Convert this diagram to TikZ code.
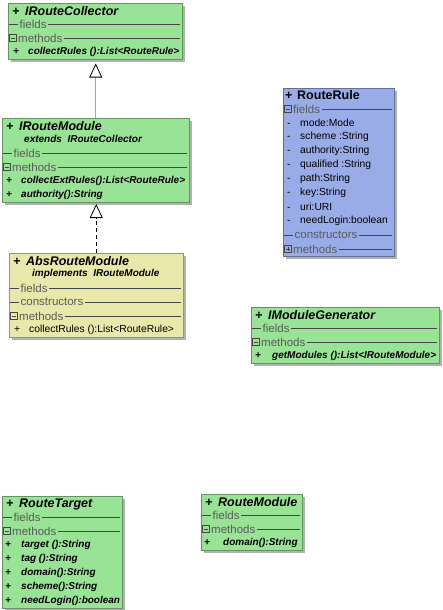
\documentclass[tikz,border=0pt]{standalone}
\usepackage{fontspec}
\setmainfont{Liberation Sans}
\usetikzlibrary{arrows.meta,shadows}

\definecolor{umlgreen}{RGB}{153,227,150}
\definecolor{umlblue}{RGB}{154,172,232}
\definecolor{umlyellow}{RGB}{232,232,170}
\definecolor{sepgray}{RGB}{70,70,70}
\definecolor{labgray}{RGB}{90,90,90}

\begin{document}
\begin{tikzpicture}[x=1pt,y=-1pt,
    bg/.style={fill=umlgreen},
    cls/.style={rectangle,anchor=north west,inner sep=0pt,fill=#1,draw=#1!65!black,line width=0.5pt,
        drop shadow={shadow xshift=2.5pt,shadow yshift=-2.5pt,fill=black!30,opacity=1}},
    head/.style={anchor=west,inner sep=0pt,font=\fontsize{12.5}{14}\selectfont\bfseries\itshape},
    headup/.style={anchor=west,inner sep=0pt,font=\fontsize{12.5}{14}\selectfont\bfseries},
    mem/.style={anchor=west,inner sep=0pt,font=\fontsize{10}{12}\selectfont\bfseries\itshape},
    memup/.style={anchor=west,inner sep=0pt,font=\fontsize{10.3}{12}\selectfont},
    sepline/.style={draw=sepgray,line width=0.6pt},
    seplab/.style={anchor=west,inner xsep=1.5pt,inner ysep=0pt,bg,text=labgray,font=\fontsize{11.5}{12}\selectfont},
    tog/.style={draw=sepgray,line width=0.5pt,bg,minimum size=7pt,inner sep=0pt,
        path picture={\draw[sepgray,line width=0.5pt] ([xshift=1.3pt]path picture bounding box.west) -- ([xshift=-1.3pt]path picture bounding box.east);}},
    togplus/.style={draw=sepgray,line width=0.5pt,bg,minimum size=7pt,inner sep=0pt,
        path picture={\draw[sepgray,line width=0.5pt] ([xshift=1.3pt]path picture bounding box.west) -- ([xshift=-1.3pt]path picture bounding box.east)
            ([yshift=-1.3pt]path picture bounding box.north) -- ([yshift=1.3pt]path picture bounding box.south);}},
    gentip/.style={-{Triangle[width=13pt,length=14pt,fill=white,color=black,line width=0.8pt]},line width=0.8pt}
]
    \useasboundingbox (0,0) rectangle (443,610);

    % IRouteCollector
    \begin{scope}[shift={(8,3)}]
        \node[cls=umlgreen,minimum width=174pt,minimum height=56pt] (coll) at (0,0) {};
        \node[head] at (4,8) {\makebox[13pt][l]{+}IRouteCollector};
        \draw[sepline] (1,21) -- (172,21); \node[seplab] at (10,21) {fields};
        \draw[sepline] (1,35) -- (172,35); \node[tog] at (5,35) {}; \node[seplab] at (8.5,35) {methods};
        \node[mem] at (5,49) {\makebox[15pt][l]{+}collectRules ():List<RouteRule>};
    \end{scope}

    % IRouteModule
    \begin{scope}[shift={(2,118)}]
        \node[cls=umlgreen,minimum width=187pt,minimum height=84pt] (irm) at (0,0) {};
        \node[head] at (4,8) {\makebox[13pt][l]{+}IRouteModule};
        \node[mem] at (22,21) {extends\ \ IRouteCollector};
        \draw[sepline] (1,35) -- (185,35); \node[seplab] at (10,35) {fields};
        \draw[sepline] (1,49) -- (185,49); \node[tog] at (5,49) {}; \node[seplab] at (8.5,49) {methods};
        \node[mem] at (4,63) {\makebox[15pt][l]{+}collectExtRules():List<RouteRule>};
        \node[mem] at (4,77) {\makebox[15pt][l]{+}authority():String};
    \end{scope}

    % AbsRouteModule
    \begin{scope}[shift={(9,253)},bg/.style={fill=umlyellow}]
        \node[cls=umlyellow,minimum width=174pt,minimum height=84pt] (abs) at (0,0) {};
        \node[head] at (4,8) {\makebox[13pt][l]{+}AbsRouteModule};
        \node[mem] at (23,21) {implements\ \ IRouteModule};
        \draw[sepline] (1,35) -- (172,35); \node[seplab] at (10,35) {fields};
        \draw[sepline] (1,49) -- (172,49); \node[seplab] at (10,49) {constructors};
        \draw[sepline] (1,63) -- (172,63); \node[tog] at (5,63) {}; \node[seplab] at (8.5,63) {methods};
        \node[memup] at (5,77) {\makebox[15pt][l]{+}collectRules ():List<RouteRule>};
    \end{scope}

    % RouteRule
    \begin{scope}[shift={(283,88)},bg/.style={fill=umlblue}]
        \node[cls=umlblue,minimum width=111pt,minimum height=168pt] (rule) at (0,0) {};
        \node[headup] at (2,7) {\makebox[12pt][l]{+}RouteRule};
        \draw[sepline] (1,21) -- (109,21); \node[tog] at (5,21) {}; \node[seplab] at (8.5,21) {fields};
        \node[memup] at (4,35) {\makebox[13pt][l]{-}mode:Mode};
        \node[memup] at (4,49) {\makebox[13pt][l]{-}scheme :String};
        \node[memup] at (4,63) {\makebox[13pt][l]{-}authority:String};
        \node[memup] at (4,77) {\makebox[13pt][l]{-}qualified :String};
        \node[memup] at (4,91) {\makebox[13pt][l]{-}path:String};
        \node[memup] at (4,105) {\makebox[13pt][l]{-}key:String};
        \node[memup] at (4,119) {\makebox[13pt][l]{-}uri:URI};
        \node[memup] at (4,133) {\makebox[13pt][l]{-}needLogin:boolean};
        \draw[sepline] (1,147) -- (109,147); \node[seplab] at (10,147) {constructors};
        \draw[sepline] (1,161) -- (109,161); \node[togplus] at (5,161) {}; \node[seplab] at (8.5,161) {methods};
    \end{scope}

    % IModuleGenerator
    \begin{scope}[shift={(251,307)}]
        \node[cls=umlgreen,minimum width=188pt,minimum height=56pt] (gen) at (0,0) {};
        \node[head] at (4,8) {\makebox[13pt][l]{+}IModuleGenerator};
        \draw[sepline] (1,21) -- (186,21); \node[seplab] at (10,21) {fields};
        \draw[sepline] (1,35) -- (186,35); \node[tog] at (5,35) {}; \node[seplab] at (8.5,35) {methods};
        \node[mem] at (4,49) {\makebox[17pt][l]{+}getModules ():List<IRouteModule>};
    \end{scope}

    % RouteTarget
    \begin{scope}[shift={(2,496)}]
        \node[cls=umlgreen,minimum width=120pt,minimum height=112pt] (target) at (0,0) {};
        \node[head] at (4,8) {\makebox[13pt][l]{+}RouteTarget};
        \draw[sepline] (1,21) -- (118,21); \node[seplab] at (10,21) {fields};
        \draw[sepline] (1,35) -- (118,35); \node[tog] at (5,35) {}; \node[seplab] at (8.5,35) {methods};
        \node[mem] at (3,49) {\makebox[16pt][l]{+}target ():String};
        \node[mem] at (3,63) {\makebox[16pt][l]{+}tag ():String};
        \node[mem] at (3,77) {\makebox[16pt][l]{+}domain():String};
        \node[mem] at (3,91) {\makebox[16pt][l]{+}scheme():String};
        \node[mem] at (3,105) {\makebox[16pt][l]{+}needLogin():boolean};
    \end{scope}

    % RouteModule
    \begin{scope}[shift={(201,494)}]
        \node[cls=umlgreen,minimum width=101pt,minimum height=56pt] (rmod) at (0,0) {};
        \node[head] at (4,8) {\makebox[13pt][l]{+}RouteModule};
        \draw[sepline] (1,21) -- (99,21); \node[seplab] at (10,21) {fields};
        \draw[sepline] (1,35) -- (99,35); \node[tog] at (5,35) {}; \node[seplab] at (8.5,35) {methods};
        \node[mem] at (3,49) {\makebox[19pt][l]{+}domain():String};
    \end{scope}

    % generalisation and realisation
    \draw[gentip,draw=black!35,shorten >=4pt] (irm.north) -- (irm.north |- coll.south);
    \draw[gentip,dash pattern=on 4pt off 3pt,shorten >=1.5pt] (abs.north) -- (abs.north |- irm.south);
\end{tikzpicture}
\end{document}
